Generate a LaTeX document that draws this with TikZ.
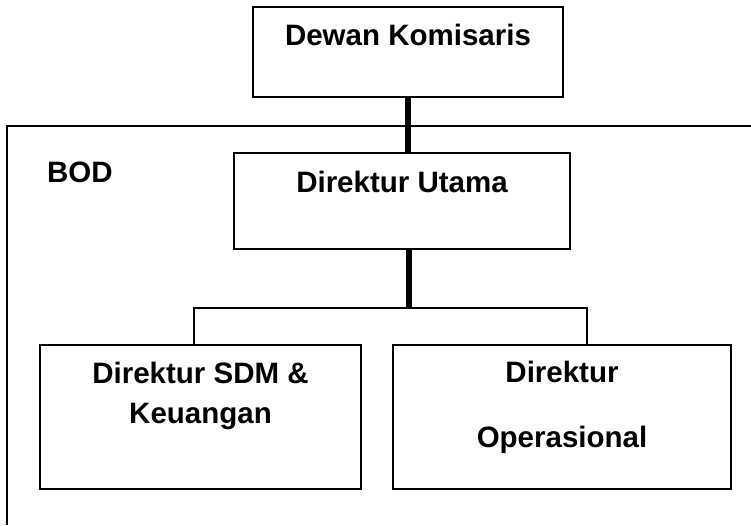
\documentclass[tikz,border=0pt]{standalone}
\usepackage{fontspec}
\setmainfont{Liberation Sans}
\begin{document}
\begin{tikzpicture}[x=1pt,y=-1pt,
  boxstyle/.style={draw=black,line width=1.6pt,fill=none},
  thinline/.style={draw=black,line width=1.6pt},
  thickline/.style={draw=black,line width=5.2pt},
  lbl/.style={anchor=base,inner sep=0pt,font=\fontsize{29.5}{33}\selectfont\bfseries}]
\useasboundingbox (0,0) rectangle (751,525);
% frame
\draw[thinline] (7,525) -- (7,126) -- (751,126);
% boxes
\path[boxstyle] (253,7) rectangle (563,97);
\coordinate (dkS) at (408,97);
\coordinate (duN) at (408,153);
\path[boxstyle] (234,153) rectangle (570,249);
\coordinate (duS) at (409,249);
\coordinate (jn) at (409,308);
\coordinate (jl) at (194,308);
\coordinate (jr) at (587,308);
\path[boxstyle] (40,345) rectangle (361,489);
\coordinate (sdmN) at (194,345);
\path[boxstyle] (393,345) rectangle (731,489);
\coordinate (opN) at (587,345);
% connectors
\draw[thickline] (dkS) -- (duN);
\draw[thickline] (duS) -- (jn);
\draw[thinline] (sdmN) -- (jl) -- (jr) -- (opN);
% labels
\node[lbl] (tdk) at (408,45) {Dewan Komisaris};
\node[lbl,anchor=base west] (tbod) at (47,182) {BOD};
\node[lbl] (tdu) at (402,192) {Direktur Utama};
\node[lbl] (tsdm1) at (200.5,383) {Direktur SDM \&};
\node[lbl] (tsdm2) at (200.5,423) {Keuangan};
\node[lbl] (top1) at (562,382) {Direktur};
\node[lbl] (top2) at (562,447) {Operasional};
\end{tikzpicture}
\end{document}
